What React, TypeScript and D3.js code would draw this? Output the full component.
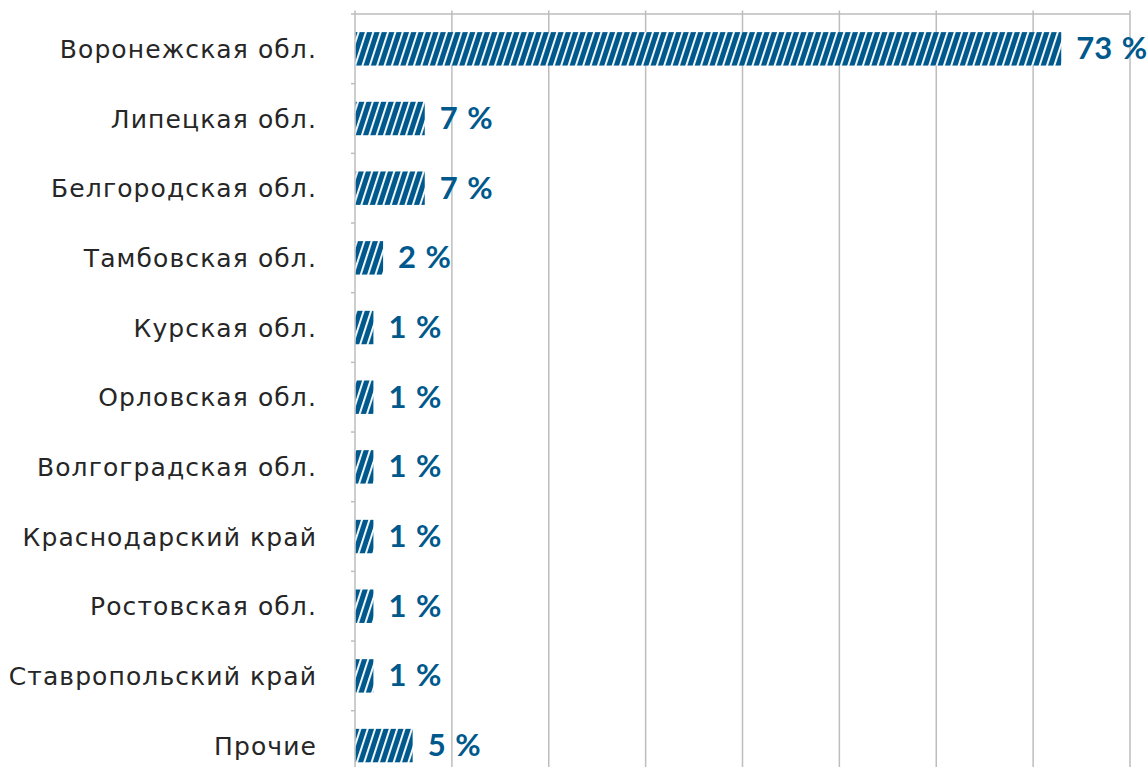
import React from "react";
import * as d3 from "d3";

const categories = [
  "Воронежская обл.",
  "Липецкая обл.",
  "Белгородская обл.",
  "Тамбовская обл.",
  "Курская обл.",
  "Орловская обл.",
  "Волгоградская обл.",
  "Краснодарский край",
  "Ростовская обл.",
  "Ставропольский край",
  "Прочие",
];
const barValues = [72.9, 7.2, 7.2, 2.9, 1.9, 1.9, 1.9, 1.9, 1.9, 1.9, 5.95];
const valueLabels = ["73 %", "7 %", "7 %", "2 %", "1 %", "1 %", "1 %", "1 %", "1 %", "1 %", "5 %"];
const gridTicks = [0, 10, 20, 30, 40, 50, 60, 70, 80];

const W = 1148;
const H = 767;
const BLUE = "#00598c";
const GRID = "#bdbdbd";

export default function App() {
  const x = d3.scaleLinear().domain([0, 80]).range([355, 1130]);
  const y = d3
    .scaleBand<string>()
    .domain(categories)
    .range([14, 780.4])
    .paddingInner(0.52)
    .paddingOuter(0.26);
  const step = y.step();
  const top = 14;
  const bottom = 780.4;
  const boundaries = d3.range(categories.length + 1).map((i) => top + i * step);

  return (
    <svg
      width={W}
      height={H}
      style={{ position: "absolute", left: 0, top: 0, display: "block", background: "#fff" }}
    >
      <defs>
        <pattern
          id="stripes"
          patternUnits="userSpaceOnUse"
          width={7}
          height={7}
          patternTransform="rotate(18)"
        >
          <rect x={0} y={0} width={7} height={7} fill={BLUE} />
          <rect x={0} y={0} width={1.9} height={7} fill="#fff" />
        </pattern>
      </defs>
      {gridTicks.map((t) => (
        <line
          key={t}
          x1={x(t)}
          x2={x(t)}
          y1={top - 3.5}
          y2={bottom}
          stroke={GRID}
          strokeWidth={1.5}
        />
      ))}
      <line x1={x(0)} x2={x(80)} y1={top} y2={top} stroke={GRID} strokeWidth={1.5} />
      {boundaries.map((b, i) => (
        <line key={i} x1={x(0) - 4} x2={x(0)} y1={b} y2={b} stroke={GRID} strokeWidth={1.5} />
      ))}
      {categories.map((c, i) => (
        <rect
          key={c}
          x={x(0) + 0.75}
          y={y(c)}
          width={x(barValues[i]) - x(0) - 0.75}
          height={y.bandwidth()}
          fill="url(#stripes)"
        />
      ))}
      {categories.map((c, i) => (
        <text
          key={c}
          x={x(barValues[i]) + 15}
          y={(y(c) as number) + y.bandwidth() / 2}
          dy="0.34em"
          fill={BLUE}
          fontFamily="Lato, 'Open Sans', sans-serif"
          fontWeight={700}
          fontSize={31}
          wordSpacing={2}
        >
          {valueLabels[i]}
        </text>
      ))}
      {categories.map((c) => (
        <text
          key={c}
          x={317}
          y={(y(c) as number) + y.bandwidth() / 2}
          dy="0.36em"
          textAnchor="end"
          fill="#262626"
          fontFamily="'DejaVu Sans', sans-serif"
          fontSize={25}
          letterSpacing={1.1}
        >
          {c}
        </text>
      ))}
    </svg>
  );
}
